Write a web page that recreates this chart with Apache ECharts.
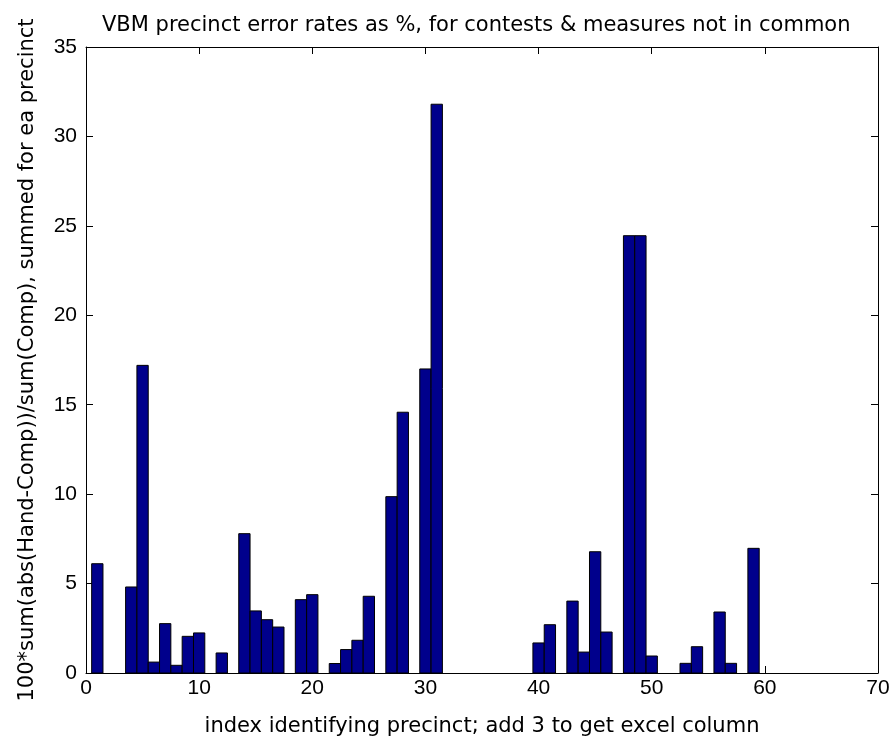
<!DOCTYPE html>
<html>
<head>
<meta charset="utf-8">
<script src="https://cdn.jsdelivr.net/npm/echarts@6/dist/echarts.min.js"></script>
<style>
html,body{margin:0;padding:0;background:#fff;}
#chart{width:895px;height:744px;}
</style>
</head>
<body>
<div id="chart"></div>
<script>
const titleText = 'VBM precinct error rates as %, for contests & measures not in common';
const xAxisTitle = 'index identifying precinct; add 3 to get excel column';
const yAxisTitle = '100*sum(abs(Hand-Comp))/sum(Comp), summed for ea precinct';

const precinctIndex = [1, 4, 5, 6, 7, 8, 9, 10, 12, 14, 15, 16, 17, 19, 20, 22, 23, 24, 25, 27, 28, 30, 31,
  40, 41, 43, 44, 45, 46, 48, 49, 50, 53, 54, 56, 57, 59];
const errorRate = [6.11, 4.81, 17.2, 0.61, 2.76, 0.43, 2.05, 2.24, 1.12, 7.79, 3.47, 2.98, 2.57, 4.1, 4.38, 0.53, 1.31, 1.83, 4.29, 9.86, 14.58, 17.0, 31.8,
  1.68, 2.7, 4.02, 1.17, 6.78, 2.29, 24.45, 24.45, 0.95, 0.54, 1.47, 3.41, 0.54, 6.97];

const xTicks = { min: 0, max: 70, interval: 10 };
const yTicks = { min: 0, max: 35, interval: 5 };

const seriesData = precinctIndex.map((x, i) => [x, errorRate[i]]);

const FONT = 'Liberation Sans';
const TEXTFONT = 'DejaVu Sans';
const chart = echarts.init(document.getElementById('chart'), null, { renderer: 'canvas' });

const axisCommon = {
  axisLine: { show: true, onZero: false, lineStyle: { color: '#000', width: 1 } },
  axisTick: { show: true, inside: true, length: 7, lineStyle: { color: '#000', width: 1 } },
  splitLine: { show: false }
};

chart.setOption({
  animation: false,
  backgroundColor: '#fff',
  title: {
    text: titleText,
    left: 97,
    top: 10,
    textStyle: { fontFamily: TEXTFONT, fontSize: 21, fontWeight: 'normal', color: '#000' }
  },
  grid: { left: 86, right: 17, top: 47, bottom: 71 },
  xAxis: [
    Object.assign({}, axisCommon, {
      type: 'value', position: 'bottom', min: xTicks.min, max: xTicks.max, interval: xTicks.interval,
      axisLabel: { fontFamily: FONT, fontSize: 21, color: '#000', margin: 5 },
      name: xAxisTitle, nameLocation: 'middle', nameGap: 43,
      nameTextStyle: { fontFamily: TEXTFONT, fontSize: 21, color: '#000' }
    }),
    Object.assign({}, axisCommon, {
      type: 'value', position: 'top', min: xTicks.min, max: xTicks.max, interval: xTicks.interval,
      axisLabel: { show: false }
    })
  ],
  yAxis: [
    Object.assign({}, axisCommon, {
      type: 'value', position: 'left', min: yTicks.min, max: yTicks.max, interval: yTicks.interval,
      axisLabel: { fontFamily: FONT, fontSize: 21, color: '#000', margin: 9 },
      name: yAxisTitle, nameLocation: 'middle', nameGap: 48, nameRotate: 90,
      nameTextStyle: { fontFamily: TEXTFONT, fontSize: 21, color: '#000' }
    }),
    Object.assign({}, axisCommon, {
      type: 'value', position: 'right', min: yTicks.min, max: yTicks.max, interval: yTicks.interval,
      axisLabel: { show: false }
    })
  ],
  series: [{
    type: 'custom',
    xAxisIndex: 0,
    yAxisIndex: 0,
    data: seriesData,
    renderItem: function (params, api) {
      const x = api.value(0), y = api.value(1);
      const p0 = api.coord([x - 0.5, y]);
      const p1 = api.coord([x + 0.5, 0]);
      return {
        type: 'rect',
        shape: { x: p0[0], y: p0[1], width: p1[0] - p0[0], height: p1[1] - p0[1] },
        style: { fill: '#00008c', stroke: '#000', lineWidth: 1 }
      };
    }
  }]
});
</script>
</body>
</html>
